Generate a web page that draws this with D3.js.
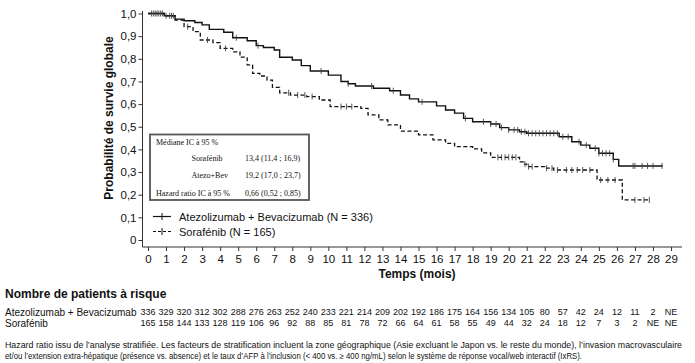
<!DOCTYPE html>
<html lang="fr">
<head>
<meta charset="utf-8">
<title>Survie globale</title>
<script src="https://cdn.jsdelivr.net/npm/d3@7"></script>
<style>
  body { margin: 0; background: #fff; }
  text { font-family: "Liberation Sans", Arial, sans-serif; fill: #111; }
</style>
</head>
<body>
<script>
// Atezolizumab + Bevacizumab (step curve)
var atezoTimes = [0, 0.9, 1.5, 2.0, 2.6, 3.0, 3.4, 4.2, 4.7, 5.5, 6.0, 6.4, 7.0, 7.3, 8.0, 8.5, 9.0, 10.0, 10.7, 11.1, 11.5, 12.5, 13.4, 14.0, 14.5, 15.0, 16.0, 16.5, 17.0, 17.5, 18.0, 19.0, 19.5, 20.0, 20.6, 21.0, 22.8, 23.5, 24.0, 24.5, 25.0, 25.8, 26.1, 28.55];
var atezoSurv = [1.0, 0.99, 0.975, 0.968, 0.96, 0.95, 0.93, 0.917, 0.893, 0.88, 0.858, 0.85, 0.839, 0.807, 0.795, 0.77, 0.746, 0.728, 0.70, 0.69, 0.68, 0.67, 0.659, 0.64, 0.623, 0.61, 0.592, 0.574, 0.56, 0.537, 0.522, 0.512, 0.496, 0.486, 0.478, 0.471, 0.456, 0.434, 0.419, 0.405, 0.383, 0.356, 0.327, 0.327];
var atezoCensor = [0.3, 0.5, 0.7, 1.0, 1.2, 1.4, 4.9, 6.1, 9.6, 11.1, 12.4, 13.6, 15.2, 17.6, 18.6, 19.0, 19.3, 19.6, 20.0, 20.3, 20.5, 20.7, 20.9, 21.1, 21.3, 21.5, 21.7, 21.9, 22.1, 22.3, 22.5, 22.7, 23.0, 23.3, 23.9, 24.3, 24.8, 25.0, 25.2, 25.4, 25.6, 25.8, 26.9, 27.0, 27.4, 27.7, 28.0, 28.5];

// Sorafenib (dashed step curve)
var soraTimes = [0, 1.0, 1.5, 2.0, 2.5, 2.9, 3.6, 4.0, 4.7, 5.1, 5.5, 5.8, 6.2, 6.6, 6.9, 7.3, 7.9, 8.8, 9.5, 10.1, 11.8, 12.2, 12.8, 13.3, 14.0, 15.0, 15.8, 16.5, 17.0, 18.0, 18.5, 19.0, 20.6, 20.8, 21.0, 22.0, 22.5, 24.9, 26.3, 27.8];
var soraSurv = [1.0, 0.99, 0.971, 0.942, 0.92, 0.883, 0.871, 0.846, 0.831, 0.807, 0.773, 0.736, 0.724, 0.706, 0.674, 0.650, 0.640, 0.633, 0.618, 0.589, 0.581, 0.552, 0.530, 0.508, 0.481, 0.464, 0.442, 0.427, 0.412, 0.402, 0.385, 0.365, 0.345, 0.335, 0.324, 0.317, 0.309, 0.265, 0.177, 0.177];
var soraCensor = [0.2, 0.4, 0.6, 0.8, 1.3, 2.2, 3.3, 4.3, 7.8, 8.3, 8.7, 9.1, 10.7, 11.0, 11.3, 19.4, 19.6, 19.8, 20.0, 20.2, 20.4, 20.9, 21.1, 21.3, 22.1, 22.4, 22.7, 23.2, 23.5, 23.8, 24.1, 24.5, 25.1, 25.5, 25.9, 27.0, 27.5, 27.8];

// risk table
var riskAtezo = ["336","329","320","312","302","288","276","263","252","240","233","221","214","209","202","192","186","175","164","156","134","105","80","57","42","24","12","11","2","NE"];
var riskSora = ["165","158","144","133","128","119","106","96","92","88","85","81","78","72","66","64","61","58","55","49","44","32","24","18","12","7","3","2","NE","NE"];

var xTicks = d3.range(0, 30);
var yTicks = [0, 0.1, 0.2, 0.3, 0.4, 0.5, 0.6, 0.7, 0.8, 0.9, 1.0];

var medianRows = [
  ["Médiane   IC à 95 %", ""],
  ["Sorafénib", "13,4 (11,4 ; 16,9)"],
  ["Atezo+Bev", "19,2 (17,0 ; 23,7)"],
  ["Hazard ratio  IC à 95 %", "0,66 (0,52 ; 0,85)"]
];

var w = 695, h = 363;
var svg = d3.select("body").append("svg").attr("width", w).attr("height", h);

var x = d3.scaleLinear().domain([0, 29]).range([148, 671]);
var y = d3.scaleLinear().domain([0, 1]).range([240, 13.5]);

//axes
var yAxis = svg.append("g")
  .attr("transform", "translate(142.5,0)")
  .call(d3.axisLeft(y).tickValues(yTicks).tickSize(4).tickPadding(2)
    .tickFormat(function(d) { return d === 0 ? "0" : d3.format(".1f")(d).replace(".", ","); }));
yAxis.select(".domain").attr("d", "M0,11V247");
yAxis.selectAll("text").style("font-size", "11.5px");

var xAxis = svg.append("g")
  .attr("transform", "translate(0,247)")
  .call(d3.axisBottom(x).tickValues(xTicks).tickSize(4).tickPadding(4));
xAxis.select(".domain").attr("d", "M142.5,0H682");
xAxis.selectAll("text").style("font-size", "11.5px");
svg.selectAll(".domain, .tick line").attr("stroke", "#333");

svg.append("text")
  .attr("x", 417).attr("y", 278)
  .attr("text-anchor", "middle")
  .style("font-size", "12px").style("font-weight", "bold")
  .text("Temps (mois)");

svg.append("text")
  .attr("transform", "translate(113,118) rotate(-90)")
  .attr("text-anchor", "middle")
  .style("font-size", "12px").style("font-weight", "bold")
  .text("Probabilité de survie globale");

//curves
function pts(ts, ss) {
  return ts.map(function(t, i) { return [t, ss[i]]; });
}
function survAt(ts, ss, t) {
  var i = d3.bisectRight(ts, t) - 1;
  return ss[Math.max(0, i)];
}
var line = d3.line()
  .x(function(d) { return x(d[0]); })
  .y(function(d) { return y(d[1]); })
  .curve(d3.curveStepAfter);

svg.append("path")
  .attr("d", line(pts(atezoTimes, atezoSurv)))
  .attr("fill", "none").attr("stroke", "#111").attr("stroke-width", 1.4);

svg.append("path")
  .attr("d", line(pts(soraTimes, soraSurv)))
  .attr("fill", "none").attr("stroke", "#111").attr("stroke-width", 1.3)
  .attr("stroke-dasharray", "4,2.5");

function censors(ts, ss, cs) {
  svg.append("g").selectAll("line")
    .data(cs)
    .enter()
    .append("line")
    .attr("x1", function(d) { return x(d); })
    .attr("x2", function(d) { return x(d); })
    .attr("y1", function(d) { return y(survAt(ts, ss, d)) - 3; })
    .attr("y2", function(d) { return y(survAt(ts, ss, d)) + 3; })
    .attr("stroke", "#444").attr("stroke-width", 0.9);
}
censors(atezoTimes, atezoSurv, atezoCensor);
censors(soraTimes, soraSurv, soraCensor);

//median box
svg.append("rect")
  .attr("x", 150).attr("y", 134.5).attr("width", 159).attr("height", 65.5)
  .attr("fill", "#fff").attr("stroke", "#555").attr("stroke-width", 1.8);
var rowY = [145, 161, 178, 195.5];
var rowX = [156, 191.5, 191.5, 156];
medianRows.forEach(function(r, i) {
  svg.append("text").attr("x", rowX[i]).attr("y", rowY[i])
    .style("font-family", "'Liberation Serif', 'Times New Roman', serif")
    .style("font-size", "8px").text(r[0]);
  svg.append("text").attr("x", 245).attr("y", rowY[i])
    .style("font-family", "'Liberation Serif', 'Times New Roman', serif")
    .style("font-size", "8px").text(r[1]);
});

//legend
var legendItems = [
  { label: "Atezolizumab + Bevacizumab (N = 336)", dash: null, yy: 216.5 },
  { label: "Sorafénib (N = 165)", dash: "3,2", yy: 231.5 }
];
legendItems.forEach(function(it) {
  svg.append("line").attr("x1", 153).attr("x2", 171).attr("y1", it.yy).attr("y2", it.yy)
    .attr("stroke", "#111").attr("stroke-width", 1.2)
    .attr("stroke-dasharray", it.dash);
  svg.append("line").attr("x1", 162).attr("x2", 162).attr("y1", it.yy - 3.5).attr("y2", it.yy + 3.5)
    .attr("stroke", "#111").attr("stroke-width", 1);
  svg.append("text").attr("x", 179).attr("y", it.yy + 4)
    .style("font-size", "11px").text(it.label);
});

//risk table
svg.append("text").attr("x", 5).attr("y", 298)
  .style("font-size", "12px").style("font-weight", "bold")
  .text("Nombre de patients à risque");
svg.append("text").attr("x", 5).attr("y", 315.5).style("font-size", "10px")
  .text("Atezolizumab + Bevacizumab");
svg.append("text").attr("x", 5).attr("y", 326.5).style("font-size", "10px").text("Sorafénib");

svg.append("g").selectAll("text")
  .data(riskAtezo)
  .enter()
  .append("text")
  .attr("x", function(d, i) { return x(i); })
  .attr("y", 315)
  .attr("text-anchor", "middle")
  .style("font-size", "9px")
  .text(function(d) { return d; });
svg.append("g").selectAll("text")
  .data(riskSora)
  .enter()
  .append("text")
  .attr("x", function(d, i) { return x(i); })
  .attr("y", 326)
  .attr("text-anchor", "middle")
  .style("font-size", "9px")
  .text(function(d) { return d; });

//footnote
svg.append("text").attr("x", 5).attr("y", 348)
  .style("font-size", "8.5px")
  .attr("textLength", 677).attr("lengthAdjust", "spacingAndGlyphs")
  .text("Hazard ratio issu de l’analyse stratifiée. Les facteurs de stratification incluent la zone géographique (Asie excluant le Japon vs. le reste du monde), l’invasion macrovasculaire");
svg.append("text").attr("x", 5).attr("y", 359)
  .style("font-size", "8.5px")
  .attr("textLength", 577).attr("lengthAdjust", "spacingAndGlyphs")
  .text("et/ou l’extension extra-hépatique (présence vs. absence) et le taux d’AFP à l’inclusion (< 400 vs. ≥ 400 ng/mL) selon le système de réponse vocal/web interactif (IxRS).");
</script>
</body>
</html>
